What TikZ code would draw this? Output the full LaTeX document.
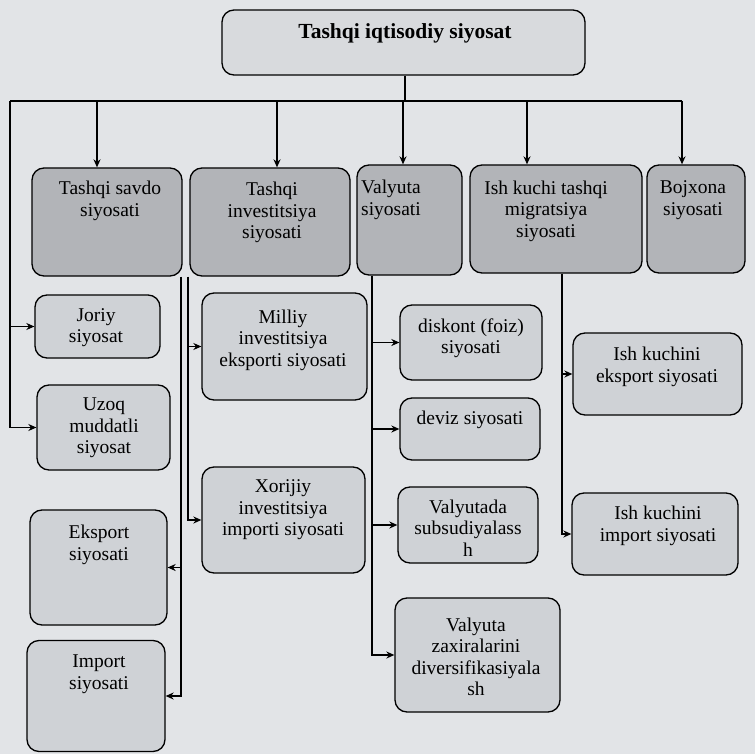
\documentclass[tikz,border=0pt]{standalone}
\usepackage{fontspec}
\setmainfont{Liberation Serif}
\usetikzlibrary{arrows.meta}
\definecolor{bgcol}{RGB}{226,228,231}
\definecolor{topfill}{RGB}{216,218,221}
\definecolor{mainfill}{RGB}{178,180,184}
\definecolor{childfill}{RGB}{207,210,214}
\tikzset{
  box/.style={draw=black, line width=1.3pt, rounded corners=12pt, fill=childfill, inner sep=0pt},
  mainbox/.style={box, fill=mainfill},
  topbox/.style={box, fill=topfill},
  lbl/.style={align=center, inner sep=0pt, font=\fontsize{19.5}{21.5}\selectfont},
  ttl/.style={align=center, inner sep=0pt, font=\fontsize{21.5}{23}\selectfont\bfseries},
  conn/.style={line width=1.3pt, draw=black},
  arr/.style={conn, -{Stealth[length=8pt,width=7pt]}}
}
\begin{document}
\begin{tikzpicture}[x=1pt,y=-1pt]
\useasboundingbox[fill=bgcol] (0,0) rectangle (755,754);

% top
\node[topbox, minimum width=363pt, minimum height=65pt] (top) at (403.5,42.5) {};
\node[ttl] (ttop) at (405,33) {Tashqi iqtisodiy siyosat};

% tier 1
\node[mainbox, minimum width=150pt, minimum height=108pt] (TS) at (107,222) {};
\node[mainbox, minimum width=160pt, minimum height=108pt] (TI) at (270,222) {};
\node[mainbox, minimum width=105pt, minimum height=110pt] (VS) at (409.5,220) {};
\node[mainbox, minimum width=172pt, minimum height=108pt] (IK) at (556,219) {};
\node[mainbox, minimum width=98pt, minimum height=108pt] (BJ) at (696,219) {};
\node[lbl] (tTS) at (110,201) {Tashqi savdo\\siyosati};
\node[lbl] (tTI) at (272,212.5) {Tashqi\\investitsiya\\siyosati};
\node[lbl] (tVS) at (391,200) {Valyuta\\siyosati};
\node[lbl] (tIK) at (546,211) {Ish kuchi tashqi\\migratsiya\\siyosati};
\node[lbl] (tBJ) at (693,200) {Bojxona\\siyosati};

% children of Tashqi savdo
\node[box, minimum width=125pt, minimum height=63pt] (Jo) at (97.5,326.5) {};
\node[box, minimum width=133pt, minimum height=85pt] (Uz) at (103.5,427.5) {};
\node[box, minimum width=137pt, minimum height=115pt] (Ek) at (98.5,567.5) {};
\node[box, minimum width=138pt, minimum height=111pt] (Im) at (96,696) {};
\node[lbl] (tJo) at (96,327.5) {Joriy\\siyosat};
\node[lbl] (tUz) at (104,428) {Uzoq\\muddatli\\siyosat};
\node[lbl] (tEk) at (99,545) {Eksport\\siyosati};
\node[lbl] (tIm) at (99,674) {Import\\siyosati};

% children of Tashqi investitsiya
\node[box, minimum width=165pt, minimum height=107pt] (Mi) at (284.5,346.5) {};
\node[box, minimum width=163pt, minimum height=106pt] (Xo) at (283.5,520) {};
\node[lbl] (tMi) at (283,340) {Milliy\\investitsiya\\eksporti siyosati};
\node[lbl] (tXo) at (283,510) {Xorijiy\\investitsiya\\importi siyosati};

% children of Valyuta
\node[box, minimum width=142pt, minimum height=75pt] (Di) at (471,342.5) {};
\node[box, minimum width=140pt, minimum height=62pt] (De) at (470,429) {};
\node[box, minimum width=140pt, minimum height=76pt] (Vs) at (468,525) {};
\node[box, minimum width=165pt, minimum height=114pt] (Za) at (477.5,655) {};
\node[lbl] (tDi) at (471,338) {diskont (foiz)\\siyosati};
\node[lbl] (tDe) at (470,420) {deviz siyosati};
\node[lbl] (tVs) at (468,528) {Valyutada\\subsudiyalass\\h};
\node[lbl] (tZa) at (476,657) {Valyuta\\zaxiralarini\\diversifikasiyala\\sh};

% children of Ish kuchi
\node[box, minimum width=169pt, minimum height=82pt] (Ie) at (657.5,374) {};
\node[box, minimum width=166pt, minimum height=82pt] (Ii) at (655,534) {};
\node[lbl] (tIe) at (657,367) {Ish kuchini\\eksport siyosati};
\node[lbl] (tIi) at (658,526) {Ish kuchini\\import siyosati};

% bus
\coordinate (bL) at (10,101);
\coordinate (bR) at (682,101);
\coordinate (dTS) at (97,0);
\coordinate (dTI) at (277,0);
\coordinate (dVS) at (403,0);
\coordinate (dIK) at (527,0);
\coordinate (sTS) at (181,0);
\coordinate (sTI) at (188,0);
\coordinate (sVS) at (372,0);
\coordinate (sIK) at (562,0);

\draw[conn] (top.south -| ttop) -- (ttop |- bL);
\draw[conn] (bL) -- (bR);
\draw[arr] (bL -| dTS) -- (TS.north -| dTS);
\draw[arr] (bL -| dTI) -- (TI.north -| dTI);
\draw[arr] (bL -| dVS) -- (VS.north -| dVS);
\draw[arr] (bL -| dIK) -- (IK.north -| dIK);
\draw[arr] (bR) -- (BJ.north -| bR);

% left spine
\draw[arr] (bL) |- (Uz.west);
\draw[arr] (bL |- Jo.west) -- (Jo.west);

% Tashqi savdo spine
\draw[arr] (TS.south -| sTS) |- (Im.east);
\draw[arr] (sTS |- Ek.east) -- (Ek.east);

% Tashqi investitsiya spine
\draw[arr] (TI.south -| sTI) |- (Xo.west);
\draw[arr] (sTI |- Mi.west) -- (Mi.west);

% Valyuta spine
\draw[arr] (VS.south -| sVS) |- (Za.west);
\draw[arr] (sVS |- Di.west) -- (Di.west);
\draw[arr] (sVS |- De.west) -- (De.west);
\draw[arr] (sVS |- Vs.west) -- (Vs.west);

% Ish kuchi spine
\draw[arr] (IK.south -| sIK) |- (Ii.west);
\draw[arr] (sIK |- Ie.west) -- (Ie.west);
\end{tikzpicture}
\end{document}
